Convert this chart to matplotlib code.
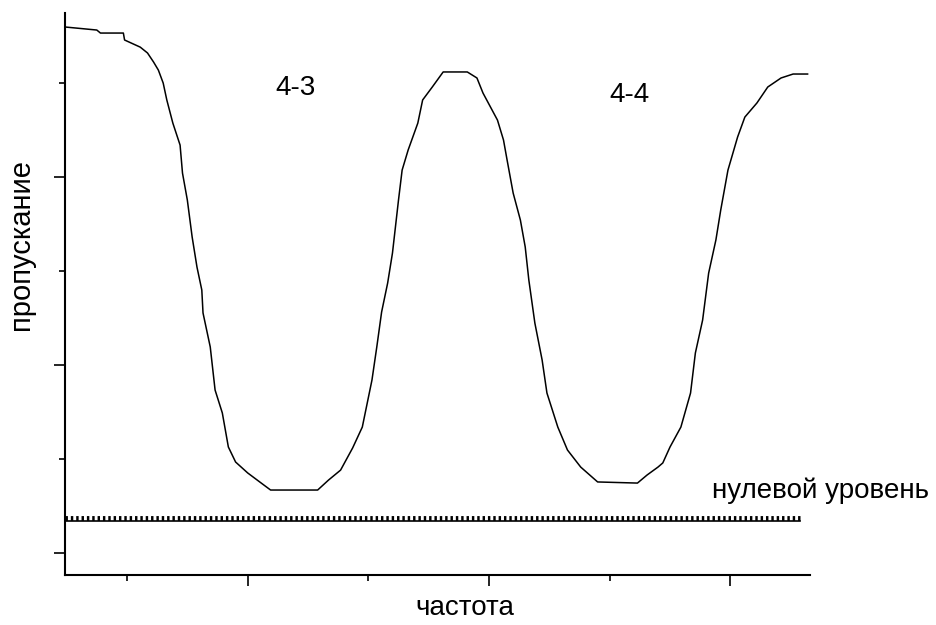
import numpy as np
import matplotlib
matplotlib.use("Agg")
import matplotlib.pyplot as plt
from matplotlib.ticker import MultipleLocator, NullFormatter

plt.rcParams['font.family'] = ['Liberation Sans', 'DejaVu Sans']

# transmission spectrum (arbitrary units)
freq = [49, 75, 78, 97, 98, 111, 117, 122, 126, 130, 133, 138, 144, 146, 150,
        154, 158, 162, 163, 169, 173, 179, 184, 190, 200, 210, 219, 258, 267,
        277, 287, 295, 303, 307, 311, 316, 320, 325, 328, 333, 341, 345, 353,
        362, 382, 390, 395, 407, 412, 415, 420, 426, 430, 433, 438, 444, 448,
        457, 465, 476, 490, 523, 531, 540, 544, 550, 559, 567, 571, 577, 582,
        588, 592, 598, 606, 612, 622, 631, 642, 652, 664]
trans = [2.798, 2.782, 2.766, 2.766, 2.729, 2.691, 2.660, 2.612, 2.569, 2.500,
         2.410, 2.287, 2.170, 2.021, 1.878, 1.681, 1.521, 1.399, 1.277, 1.096,
         0.867, 0.745, 0.564, 0.484, 0.426, 0.378, 0.335, 0.335, 0.388, 0.441,
         0.559, 0.670, 0.920, 1.096, 1.282, 1.436, 1.596, 1.878, 2.037, 2.144,
         2.287, 2.410, 2.479, 2.559, 2.559, 2.527, 2.447, 2.303, 2.197, 2.090,
         1.915, 1.771, 1.628, 1.452, 1.223, 1.027, 0.851, 0.670, 0.548, 0.457,
         0.378, 0.372, 0.415, 0.457, 0.479, 0.564, 0.670, 0.851, 1.064, 1.239,
         1.489, 1.665, 1.824, 2.037, 2.213, 2.319, 2.394, 2.479, 2.527, 2.548,
         2.548]

# zero level
zero_freq = [49, 658]
zero_level = [0.172, 0.172]

fig = plt.figure(figsize=(9.36, 6.25), dpi=100)
ax = fig.add_axes([0.0694, 0.08, 0.796, 0.899])

ax.plot(freq, trans, color='black', lw=1.1)
ax.plot(zero_freq, zero_level, color='black', lw=1.2)
ax.plot(zero_freq, [z + 0.012 for z in zero_level], color='black', lw=3.5,
        linestyle=(0, (0.5, 0.6)))

ax.text(223, 2.436, '4-3', fontsize=20, ha='left', va='baseline')
ax.text(500, 2.40, '4-4', fontsize=20, ha='left', va='baseline')
ax.text(585, 0.29, 'нулевой уровень', fontsize=20, ha='left', va='baseline')

ax.set_xlim(48.6, 666)
ax.set_ylim(-0.117, 2.872)

ax.spines['top'].set_visible(False)
ax.spines['right'].set_visible(False)
ax.spines['left'].set_linewidth(1.5)
ax.spines['bottom'].set_linewidth(1.5)

ax.xaxis.set_major_locator(MultipleLocator(200))
ax.xaxis.set_minor_locator(MultipleLocator(100))
ax.yaxis.set_major_locator(MultipleLocator(1))
ax.yaxis.set_minor_locator(MultipleLocator(0.5))
ax.xaxis.set_major_formatter(NullFormatter())
ax.yaxis.set_major_formatter(NullFormatter())
ax.tick_params(which='major', length=8, width=1.2, direction='out')
ax.tick_params(which='minor', length=4.5, width=1.2, direction='out')

fig.text(465 / 936, 1 - 608 / 625, 'частота', fontsize=20,
         ha='center', va='center')
fig.text(21 / 936, 1 - 244 / 625, 'пропускание', fontsize=21,
         ha='center', va='center', rotation=90)

fig.savefig('out.png', dpi=100)
